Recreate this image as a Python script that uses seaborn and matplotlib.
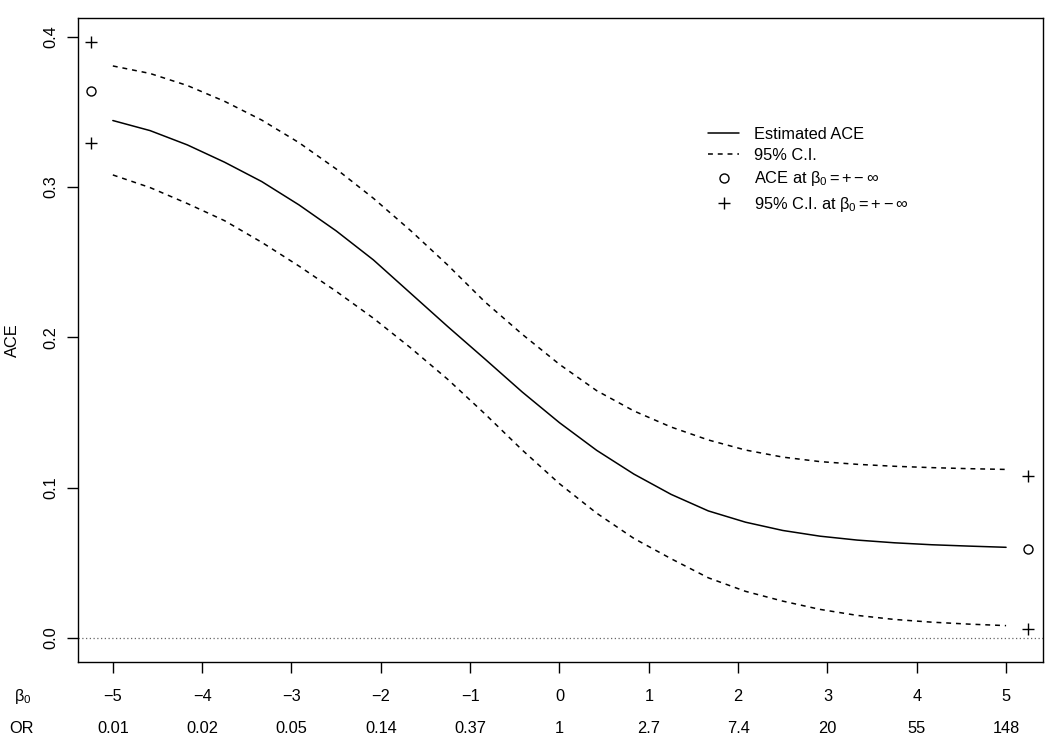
import numpy as np
import pandas as pd
import matplotlib
matplotlib.use("Agg")
import matplotlib.pyplot as plt
from matplotlib.lines import Line2D
import matplotlib.transforms as mtransforms
import seaborn as sns

# ---------------- data ----------------
beta0 = np.linspace(-5, 5, 25)
ace_est = [0.3442, 0.3375, 0.3280, 0.3165, 0.3036, 0.2881, 0.2708, 0.2515, 0.2293,
           0.2071, 0.1855, 0.1636, 0.1432, 0.1248, 0.1090, 0.0955, 0.0845, 0.0770,
           0.0715, 0.0677, 0.0651, 0.0633, 0.0620, 0.0611, 0.0603]
ci_upper = [0.3805, 0.3755, 0.3675, 0.3570, 0.3445, 0.3295, 0.3120, 0.2925, 0.2710,
            0.2480, 0.2235, 0.2020, 0.1820, 0.1645, 0.1510, 0.1403, 0.1317, 0.1250,
            0.1203, 0.1173, 0.1155, 0.1142, 0.1133, 0.1126, 0.1121]
ci_lower = [0.3080, 0.2996, 0.2890, 0.2776, 0.2632, 0.2474, 0.2306, 0.2127, 0.1930,
            0.1720, 0.1490, 0.1250, 0.1026, 0.0830, 0.0662, 0.0527, 0.0400, 0.0310,
            0.0245, 0.0190, 0.0150, 0.0123, 0.0105, 0.0092, 0.0082]

inf_beta = [-5.25, 5.25]
inf_ace = [0.364, 0.059]
inf_ci_upper = [0.3965, 0.108]
inf_ci_lower = [0.329, 0.0058]

beta_ticks = [-5, -4, -3, -2, -1, 0, 1, 2, 3, 4, 5]
beta_labels = ["\u22125", "\u22124", "\u22123", "\u22122", "\u22121", "0", "1", "2", "3", "4", "5"]
or_labels = ["0.01", "0.02", "0.05", "0.14", "0.37", "1", "2.7", "7.4", "20", "55", "148"]
y_ticks = [0.0, 0.1, 0.2, 0.3, 0.4]
y_labels = ["0.0", "0.1", "0.2", "0.3", "0.4"]

# ---------------- style ----------------
sns.set_theme(style="white", rc={"text.color": "black", "axes.labelcolor": "black",
                                 "xtick.color": "black", "ytick.color": "black",
                                 "axes.edgecolor": "black"})
plt.rcParams["font.family"] = ["Liberation Sans", "DejaVu Sans"]
plt.rcParams["mathtext.fontset"] = "custom"
plt.rcParams["mathtext.rm"] = "Liberation Sans"
plt.rcParams["mathtext.it"] = "Liberation Sans"
plt.rcParams["mathtext.bf"] = "Liberation Sans:bold"
FS = 11.8

fig = plt.figure(figsize=(10.5, 7.49), dpi=100)
ax = fig.add_axes([78 / 1050, 1 - 661.7 / 749, (1042.7 - 78) / 1050, (661.7 - 18) / 749])

df = pd.DataFrame({"beta0": beta0, "ace": ace_est, "up": ci_upper, "lo": ci_lower})
dash = (0, (3.2, 3.2))
sns.lineplot(data=df, x="beta0", y="ace", color="black", lw=1.1, ax=ax)
sns.lineplot(data=df, x="beta0", y="up", color="black", lw=1.1, linestyle=dash, ax=ax)
sns.lineplot(data=df, x="beta0", y="lo", color="black", lw=1.1, linestyle=dash, ax=ax)

ax.plot(inf_beta, inf_ace, linestyle="none", marker="o", markersize=6.5,
        markerfacecolor="none", markeredgecolor="black", markeredgewidth=1.0)
ax.plot(inf_beta, inf_ci_upper, linestyle="none", marker="+", markersize=9,
        color="black", markeredgewidth=1.0)
ax.plot(inf_beta, inf_ci_lower, linestyle="none", marker="+", markersize=9,
        color="black", markeredgewidth=1.0)

ax.axhline(0, color="#666666", linestyle=(0, (1, 2)), lw=0.9)

ax.set_xlim(-5.39, 5.41)
ax.set_ylim(-0.0158, 0.4124)

for s in ax.spines.values():
    s.set_visible(True)
    s.set_color("black")
    s.set_linewidth(1.0)

ax.set_xticks(beta_ticks)
ax.tick_params(axis="x", which="both", bottom=True, direction="out", length=8,
               width=1.0, color="black", labelbottom=False)
ax.set_yticks(y_ticks)
ax.set_yticklabels(y_labels, rotation=90, va="center", fontsize=FS, color="black")
ax.tick_params(axis="y", which="both", left=True, direction="out", length=8,
               width=1.0, color="black", pad=6)
ax.set_xlabel("")
ax.set_ylabel("ACE", fontsize=FS, va="center", color="black")
ax.yaxis.set_label_coords((12 - 78) / 964.7, 0.5)

trans = mtransforms.blended_transform_factory(ax.transData, ax.transAxes)
y_row1 = (661.7 - 696.7) / 643.7
y_row2 = (661.7 - 728.3) / 643.7
for b, bl, orl in zip(beta_ticks, beta_labels, or_labels):
    ax.text(b, y_row1, bl, transform=trans, ha="center", va="center", fontsize=FS, color="black")
    ax.text(b, y_row2, orl, transform=trans, ha="center", va="center", fontsize=FS, color="black")
fig.text(22.5 / 1050, 1 - 696.7 / 749, r"$\beta_0$", ha="center", va="center",
         fontsize=FS, color="black")
fig.text(22 / 1050, 1 - 728.3 / 749, "OR", ha="center", va="center", fontsize=FS, color="black")

handles = [
    Line2D([], [], color="black", lw=1.1),
    Line2D([], [], color="black", lw=1.1, linestyle=dash),
    Line2D([], [], linestyle="none", marker="o", markersize=6.5,
           markerfacecolor="none", markeredgecolor="black", markeredgewidth=1.0),
    Line2D([], [], linestyle="none", marker="+", markersize=9, color="black",
           markeredgewidth=1.0),
]
labels = ["Estimated ACE", "95% C.I.", r"ACE at $\beta_0=+-\infty$",
          r"95% C.I. at $\beta_0=+-\infty$"]
leg = ax.legend(handles, labels, loc="upper left",
                bbox_to_anchor=(708 / 1050, 1 - 127 / 749), bbox_transform=fig.transFigure,
                frameon=False, fontsize=FS, handlelength=1.9, handletextpad=0.9,
                labelspacing=0.38, borderpad=0, borderaxespad=0)
for t in leg.get_texts():
    t.set_color("black")

fig.savefig("out.png", dpi=100, facecolor="white")
